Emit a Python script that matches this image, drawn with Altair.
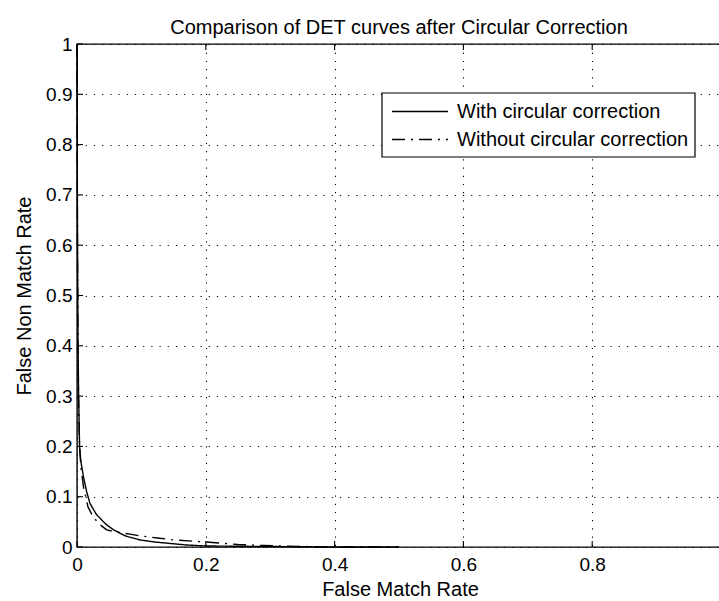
import altair as alt
import pandas as pd

TITLE = "Comparison of DET curves after Circular Correction"
X_TITLE = "False Match Rate"
Y_TITLE = "False Non Match Rate"
SERIES = ["With circular correction", "Without circular correction"]

WITH_X = [0, 0.0003, 0.0008, 0.0015, 0.0025, 0.004, 0.006, 0.01, 0.015, 0.02, 0.03, 0.045,
          0.057, 0.075, 0.098, 0.12, 0.145, 0.17, 0.2, 0.25, 0.3, 0.35, 0.4, 0.5]
WITH_Y = [1, 0.8, 0.6, 0.42, 0.3, 0.2, 0.17, 0.14, 0.11, 0.087, 0.065, 0.045,
          0.034, 0.022, 0.014, 0.010, 0.007, 0.004, 0.002, 0.0015, 0.001, 0.0005, 0, 0]

WITHOUT_X = [0, 0.0003, 0.0008, 0.0015, 0.0025, 0.004, 0.006, 0.01, 0.017, 0.025, 0.035, 0.046,
             0.06, 0.08, 0.098, 0.125, 0.15, 0.2, 0.25, 0.29, 0.35, 0.4, 0.5]
WITHOUT_Y = [1, 0.78, 0.58, 0.4, 0.29, 0.2, 0.16, 0.12, 0.08, 0.06, 0.045, 0.034,
             0.03, 0.026, 0.022, 0.018, 0.014, 0.01, 0.005, 0.003, 0.001, 0, 0]

X_TICKS = [0, 0.2, 0.4, 0.6, 0.8]
Y_TICKS = [0, 0.1, 0.2, 0.3, 0.4, 0.5, 0.6, 0.7, 0.8, 0.9, 1.0]

DASHES = [[1, 0], [13, 6, 2, 6]]

FONT = "Liberation Sans"
W, H = 644, 503
FS = 19
TFS = 20

rows = []
for i, (xs, ys) in enumerate([(WITH_X, WITH_Y), (WITHOUT_X, WITHOUT_Y)]):
    for k, (x, y) in enumerate(zip(xs, ys)):
        rows.append({"series": SERIES[i], "fmr": x, "fnmr": y, "idx": k})
df = pd.DataFrame(rows)

x_scale = alt.Scale(domain=[0, 1], nice=False, zero=False)
y_scale = alt.Scale(domain=[0, 1], nice=False, zero=False)

x_axis = alt.Axis(values=X_TICKS, format="~g", title=X_TITLE, grid=True, gridDash=[1.2, 7],
                  gridColor="black", gridWidth=1.1, gridOpacity=1, ticks=False, domain=False,
                  labelFlush=False, labelOverlap=False, labelPadding=8, labelFontSize=FS,
                  labelFont=FONT, labelColor="black", titleFont=FONT, titleFontSize=TFS,
                  titleFontWeight="normal", titleColor="black", titleBaseline="alphabetic",
                  titleY=48, titleX=W / 2 + 1)
y_axis = alt.Axis(values=Y_TICKS, format="~g", title=Y_TITLE, grid=True, gridDash=[1.2, 7],
                  gridColor="black", gridWidth=1.1, gridOpacity=1, ticks=False, domain=False,
                  labelFlush=False, labelOverlap=False, labelPadding=5, labelFontSize=FS,
                  labelFont=FONT, labelColor="black", titleFont=FONT, titleFontSize=TFS,
                  titleFontWeight="normal", titleColor="black", titleBaseline="alphabetic",
                  titleAlign="center", titleAngle=270, titleX=-47, titleY=H / 2)

lines = alt.Chart(df).mark_line(color="black", strokeWidth=1.4).encode(
    x=alt.X("fmr:Q", scale=x_scale, axis=x_axis),
    y=alt.Y("fnmr:Q", scale=y_scale, axis=y_axis),
    strokeDash=alt.StrokeDash("series:N", scale=alt.Scale(domain=SERIES, range=DASHES), legend=None),
    order="idx:Q",
)

xt = pd.DataFrame({"v": X_TICKS})
yt = pd.DataFrame({"v": Y_TICKS})
tick_bottom = alt.Chart(xt).mark_rule(color="black", strokeWidth=1.1).encode(
    x=alt.X("v:Q", scale=x_scale, axis=x_axis), y=alt.value(H), y2=alt.value(H - 6))
tick_top = alt.Chart(xt).mark_rule(color="black", strokeWidth=1.1).encode(
    x=alt.X("v:Q", scale=x_scale, axis=x_axis), y=alt.value(0), y2=alt.value(6))
tick_left = alt.Chart(yt).mark_rule(color="black", strokeWidth=1.1).encode(
    y=alt.Y("v:Q", scale=y_scale, axis=y_axis), x=alt.value(0), x2=alt.value(6))

leg_df = pd.DataFrame({"series": SERIES, "row": [0, 1]})
box = alt.Chart(leg_df.head(1)).mark_rect(fill="white", stroke="black", strokeWidth=1.2).encode(
    x=alt.value(305), x2=alt.value(618), y=alt.value(49), y2=alt.value(113))

legend_layers = [box]
for i, s in enumerate(SERIES):
    ry = 67.5 + 28 * i
    sub = alt.Chart(leg_df).transform_filter(alt.datum.series == s)
    legend_layers.append(sub.mark_rule(color="black", strokeWidth=1.3, strokeDash=DASHES[i]).encode(
        x=alt.value(315), x2=alt.value(371), y=alt.value(ry)))
    legend_layers.append(sub.mark_text(align="left", baseline="middle", font=FONT, fontSize=TFS,
                                       color="black").encode(
        x=alt.value(380), y=alt.value(ry), text="series:N"))

chart = alt.layer(lines, tick_bottom, tick_top, tick_left, *legend_layers).properties(
    width=W, height=H,
    background="white",
    title=alt.Title(TITLE, font=FONT, fontSize=TFS, fontWeight="normal", color="black",
                    anchor="middle", frame="group", baseline="alphabetic", offset=-19),
    autosize=alt.AutoSizeParams(type="none"),
    padding={"left": 77, "top": 44, "right": -2, "bottom": 54},
).configure_view(stroke="black", strokeWidth=1.4)

chart.save("out.html", embed_options={"renderer": "svg", "actions": False})
